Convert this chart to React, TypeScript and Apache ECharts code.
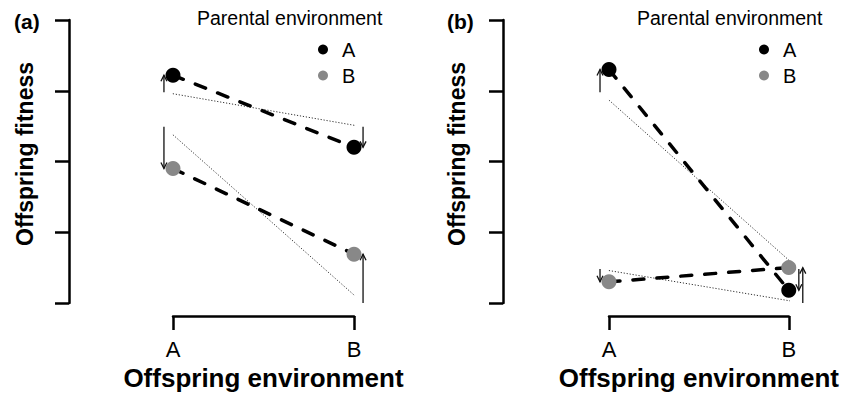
import React, { useEffect, useRef } from "react";
import * as echarts from "echarts";

// ---------- data ----------
const categories = ["A", "B"];
const categoryX = [1, 2];
const yTicks = [0, 4];
const legendNames = ["A", "B"];

// Panel (a)
const aParentA = [3.22, 2.2];
const aParentB = [1.9, 0.69];
const aExpectA = [2.98, 2.49];
const aExpectB = [2.49, 0.0];
const aExpectXA = [0.95, 2.05];
const aExpectXB = [0.95, 2.05];

// Panel (b)
const bParentA = [3.3, 0.18];
const bParentB = [0.3, 0.5];
const bExpectA = [2.98, 0.48];
const bExpectB = [0.48, 0.0];
const bExpectXA = [0.95, 2.056];
const bExpectXB = [0.95, 2.078];

const FONT = "'Liberation Sans', Arial, Helvetica, sans-serif";
const GREY = "#888888";

type PanelCfg = {
  idx: number;
  gridLeft: number;
  gridWidth: number;
  yOffset: number;
  parentA: number[];
  parentB: number[];
  expectA: number[];
  expectB: number[];
  expectXA: number[];
  expectXB: number[];
};

const arrowRender = (params: any, api: any) => {
  const x = api.value(0);
  const y0 = api.value(1);
  const y1 = api.value(2);
  const p0 = api.coord([x, y0]);
  const p1 = api.coord([x, y1]);
  const dir = p1[1] > p0[1] ? 1 : -1;
  const hl = 6;
  const hw = 3;
  const stroke = "#111";
  return {
    type: "group",
    children: [
      {
        type: "line",
        shape: { x1: p0[0], y1: p0[1], x2: p1[0], y2: p1[1] },
        style: { stroke, lineWidth: 1.3 },
      },
      {
        type: "polyline",
        shape: {
          points: [
            [p1[0] - hw, p1[1] - dir * hl],
            [p1[0], p1[1]],
            [p1[0] + hw, p1[1] - dir * hl],
          ],
        },
        style: { stroke, lineWidth: 1.3, fill: "none" },
      },
    ],
  };
};

function buildPanel(c: PanelCfg) {
  const grid = { left: c.gridLeft, width: c.gridWidth, top: 20, height: 283 };
  const xAxis = {
    type: "value",
    gridIndex: c.idx,
    min: categoryX[0],
    max: categoryX[1],
    interval: 1,
    offset: 13,
    name: "Offspring environment",
    nameLocation: "middle",
    nameGap: 47,
    nameTextStyle: { fontSize: 26, fontWeight: "bold", color: "#000", fontFamily: FONT },
    axisLine: { onZero: false, lineStyle: { color: "#000", width: 2.5 } },
    axisTick: { length: 14, lineStyle: { color: "#000", width: 2.5 } },
    axisLabel: {
      margin: 22,
      fontSize: 22,
      color: "#000",
      fontFamily: FONT,
      formatter: (v: number) => categories[categoryX.indexOf(v)] ?? "",
    },
    splitLine: { show: false },
  };
  const yAxis = {
    type: "value",
    gridIndex: c.idx,
    min: yTicks[0],
    max: yTicks[1],
    interval: 1,
    position: "left",
    offset: c.yOffset,
    axisLine: { show: true, lineStyle: { color: "#000", width: 2.5 } },
    axisTick: { show: true, length: 14, lineStyle: { color: "#000", width: 2.5 } },
    axisLabel: { show: false },
    splitLine: { show: false },
  };
  const dotted = (xs: number[], ys: number[]) => ({
    type: "line",
    xAxisIndex: c.idx,
    yAxisIndex: c.idx,
    data: xs.map((x, i) => [x, ys[i]]),
    symbol: "none",
    clip: false,
    silent: true,
    z: 1,
    lineStyle: { color: "#333", width: 1, type: [1.2, 1.8] },
  });
  const dashed = (ys: number[]) => ({
    type: "line",
    xAxisIndex: c.idx,
    yAxisIndex: c.idx,
    data: categoryX.map((x, i) => [x, ys[i]]),
    symbol: "none",
    clip: false,
    silent: true,
    z: 2,
    lineStyle: { color: "#000", width: 3.5, type: [11, 13], cap: "round", opacity: 1 },
  });
  const arrows = {
    type: "custom",
    xAxisIndex: c.idx,
    yAxisIndex: c.idx,
    clip: false,
    silent: true,
    z: 3,
    encode: { x: 0, y: [1, 2] },
    renderItem: arrowRender,
    data: [
      [c.expectXA[0], c.expectA[0], c.parentA[0]],
      [c.expectXB[0], c.expectB[0], c.parentB[0]],
      [c.expectXA[1], c.expectA[1], c.parentA[1]],
      [c.expectXB[1], c.expectB[1], c.parentB[1]],
    ],
  };
  const scatter = (name: string, ys: number[], color: string) => ({
    type: "scatter",
    name,
    xAxisIndex: c.idx,
    yAxisIndex: c.idx,
    data: categoryX.map((x, i) => [x, ys[i]]),
    symbol: "circle",
    symbolSize: 15,
    clip: false,
    z: 4,
    itemStyle: { color, opacity: 1 },
  });
  const series = [
    dotted(c.expectXA, c.expectA),
    dotted(c.expectXB, c.expectB),
    dashed(c.parentA),
    dashed(c.parentB),
    arrows,
    scatter(legendNames[0], c.parentA, "#000000"),
    scatter(legendNames[1], c.parentB, GREY),
  ];
  return { grid, xAxis, yAxis, series };
}

export default function App() {
  const ref = useRef<HTMLDivElement>(null);
  useEffect(() => {
    if (!ref.current) return;
    const chart = echarts.init(ref.current, undefined, { renderer: "svg" });
    const pa = buildPanel({
      idx: 0,
      gridLeft: 173,
      gridWidth: 181,
      yOffset: 104,
      parentA: aParentA,
      parentB: aParentB,
      expectA: aExpectA,
      expectB: aExpectB,
      expectXA: aExpectXA,
      expectXB: aExpectXB,
    });
    const pb = buildPanel({
      idx: 1,
      gridLeft: 609,
      gridWidth: 180,
      yOffset: 106,
      parentA: bParentA,
      parentB: bParentB,
      expectA: bExpectA,
      expectB: bExpectB,
      expectXA: bExpectXA,
      expectXB: bExpectXB,
    });
    const legendCfg = (left: number) => ({
      orient: "vertical",
      left,
      top: 39.5,
      padding: 0,
      itemWidth: 28,
      itemHeight: 10,
      itemGap: 6,
      icon: "circle",
      selectedMode: false,
      data: legendNames,
      itemStyle: { opacity: 1 },
      textStyle: { fontSize: 20, lineHeight: 20, color: "#000", fontFamily: FONT },
    });
    const txt = (text: string, x: number, y: number, font: string, rotation = 0, align = "left") => ({
      type: "text",
      x,
      y,
      rotation,
      style: { text, font, fill: "#000", textAlign: align, textVerticalAlign: "middle" },
    });
    chart.setOption({
      animation: false,
      backgroundColor: "#ffffff",
      textStyle: { fontFamily: FONT },
      grid: [pa.grid, pb.grid],
      xAxis: [pa.xAxis, pb.xAxis],
      yAxis: [pa.yAxis, pb.yAxis],
      legend: [legendCfg(318), legendCfg(759)],
      series: [...pa.series, ...pb.series],
      graphic: [
        txt("(a)", 14, 21, `bold 21px ${FONT}`),
        txt("(b)", 447, 21, `bold 21px ${FONT}`),
        txt("Parental environment", 197, 18, `19.5px ${FONT}`),
        txt("Parental environment", 637, 18, `19.5px ${FONT}`),
        txt("Offspring fitness", 25, 154, `bold 23px ${FONT}`, Math.PI / 2, "center"),
        txt("Offspring fitness", 457, 154, `bold 23px ${FONT}`, Math.PI / 2, "center"),
      ],
    });
    return () => chart.dispose();
  }, []);
  return (
    <div
      ref={ref}
      style={{ position: "fixed", left: 0, top: 0, width: 842, height: 396, background: "#fff" }}
    />
  );
}
